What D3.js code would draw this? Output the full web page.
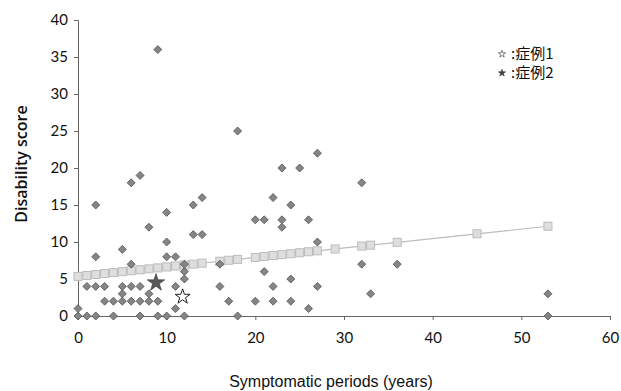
<!DOCTYPE html>
<html><head><meta charset="utf-8">
<script src="https://cdn.jsdelivr.net/npm/d3@7"></script>
<style>body{margin:0;background:#fff}svg{display:block}</style>
</head><body><div id="chart"></div>
<script>
// Data
const xVals = [0,1,2,4,7,9,10,12,18,53, 0,11,26, 3,4,5,6,7,8,9,17,20,22,24, 5,8,33,53, 1,2,3,5,6,7,11,16,22,27, 12,24, 12,21, 6,12,16,32,36, 2,10,11, 5, 10,27, 13,14, 8,23, 20,21,23,26, 2,13,24, 10, 14,22, 6,32, 7, 23,25, 27, 18, 9];
const yVals = [0,0,0,0,0,0,0,0,0,0, 1,1,1, 2,2,2,2,2,2,2,2,2,2,2, 3,3,3,3, 4,4,4,4,4,4,4,4,4,4, 5,5, 6,6, 7,7,7,7,7, 8,8,8, 9, 10,10, 11,11, 12,12, 13,13,13,13, 15,15,15, 14, 16,16, 18,18, 19, 20,20, 22, 25, 36];
const fitX = [0,1,2,3,4,5,6,7,8,9,10,11,12,13,14,16,17,18,20,21,22,23,24,25,26,27,29,32,33,36,45,53];
const fitY = [5.35,5.48,5.61,5.73,5.86,5.99,6.12,6.25,6.37,6.5,6.63,6.76,6.89,7.01,7.14,7.4,7.53,7.65,7.91,8.04,8.17,8.29,8.42,8.55,8.68,8.81,9.06,9.45,9.57,9.96,11.11,12.13];
const case1 = [11.8, 2.6];   // 症例1 (open star)
const case2 = [8.8, 4.5];    // 症例2 (filled star)
const xTicks = [0,10,20,30,40,50,60];
const yTicks = [0,5,10,15,20,25,30,35,40];
const legendLabels = ["症例1","症例2"];

const W = 621, H = 391;
const svg = d3.select("#chart").append("svg").attr("width", W).attr("height", H);
const x = d3.scaleLinear().domain([0,60]).range([78,610]);
const y = d3.scaleLinear().domain([0,40]).range([316,20]);

const numFont = "Lato, 'Open Sans', sans-serif";

// Y axis
const yAxis = svg.append("g").attr("transform","translate(78,0)")
  .call(d3.axisLeft(y).tickValues(yTicks).tickSize(4).tickPadding(6));
yAxis.select(".domain").attr("stroke","#666");
yAxis.selectAll(".tick line").attr("stroke","#666");
yAxis.selectAll("text").attr("font-family",numFont).attr("font-size",15).attr("fill","#111");

// X axis
const xAxis = svg.append("g").attr("transform","translate(0,316)")
  .call(d3.axisBottom(x).tickValues(xTicks).tickSize(4).tickPadding(12));
xAxis.select(".domain").attr("stroke","#666");
xAxis.selectAll(".tick line").attr("stroke","#666");
xAxis.selectAll("text").attr("font-family",numFont).attr("font-size",15).attr("fill","#111");

// Axis titles
svg.append("text").attr("x",331).attr("y",387).attr("text-anchor","middle")
  .attr("font-family","'Liberation Sans', Arial, sans-serif").attr("font-size",16).attr("fill","#111")
  .text("Symptomatic periods (years)");
svg.append("text").attr("transform","translate(27,164) rotate(-90)").attr("text-anchor","middle")
  .attr("font-family","'Open Sans', sans-serif").attr("font-size",16).attr("font-weight",600).attr("fill","#111")
  .text("Disability score");

// Regression line + markers
const fit = fitX.map((d,i)=>[d,fitY[i]]);
svg.append("path").datum(fit)
  .attr("d", d3.line().x(d=>x(d[0])).y(d=>y(d[1])))
  .attr("fill","none").attr("stroke","#bdbdbd").attr("stroke-width",1.2);
svg.append("g").selectAll("rect").data(fit).join("rect")
  .attr("x",d=>x(d[0])-4).attr("y",d=>y(d[1])-4).attr("width",8).attr("height",8)
  .attr("fill","#dedede").attr("stroke","#bcbcbc").attr("stroke-width",1);

// Diamonds
const pts = xVals.map((d,i)=>[d,yVals[i]]);
svg.append("g").selectAll("path").data(pts).join("path")
  .attr("transform",d=>`translate(${x(d[0])},${y(d[1])})`)
  .attr("d","M0,-4L4,0L0,4L-4,0Z")
  .attr("fill","#858585").attr("stroke","#505050").attr("stroke-width",0.8);

// Stars
const star = d3.symbol().type(d3.symbolStar);
svg.append("path").attr("transform",`translate(${x(case1[0])},${y(case1[1])})`)
  .attr("d",star.size(70)()).attr("fill","#fff").attr("stroke","#222").attr("stroke-width",1);
svg.append("path").attr("transform",`translate(${x(case2[0])},${y(case2[1])})`)
  .attr("d",star.size(95)()).attr("fill","#5a5a5a").attr("stroke","#333").attr("stroke-width",0.6);

// Legend
const lg = svg.append("g");
[0,1].forEach(i=>{
  const cy = 54 + i*19;
  lg.append("path").attr("transform",`translate(502,${cy})`)
    .attr("d",star.size(16)()).attr("fill", i===0?"#fff":"#444").attr("stroke","#333").attr("stroke-width",0.6);
  lg.append("text").attr("x",511).attr("y",cy+5)
    .attr("font-family","'Noto Sans CJK JP', sans-serif").attr("font-size",15).attr("fill","#111")
    .text(":" + legendLabels[i]);
});
</script></body></html>
